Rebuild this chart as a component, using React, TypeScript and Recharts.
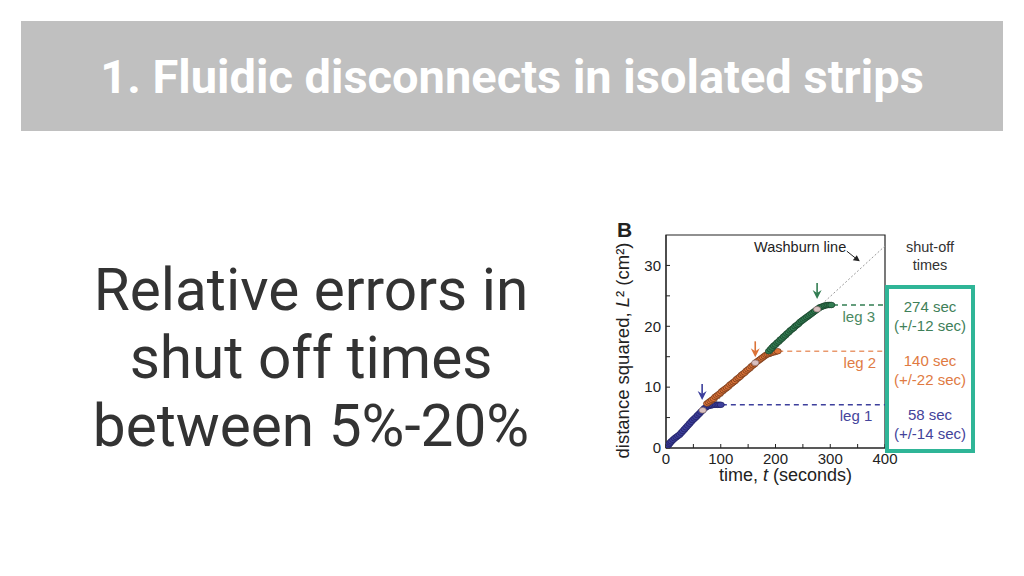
import { ComposedChart, Scatter, XAxis, YAxis, ReferenceLine, ReferenceDot, ReferenceArea } from 'recharts'

// leg 1 (blue)
const leg1Time = [0, 2, 4, 6, 8, 10, 13, 16, 19, 22, 25, 28, 31, 34, 37, 40, 43, 46, 49, 52, 55, 58, 61, 64, 67, 70, 73, 76, 79, 82, 85, 88, 91, 94, 97, 100]
const leg1Dist = [0, 0.2, 0.45, 0.7, 0.9, 1.1, 1.35, 1.6, 1.8, 2.0, 2.2, 2.5, 2.8, 3.1, 3.4, 3.7, 4.0, 4.3, 4.6, 4.85, 5.1, 5.4, 5.65, 5.95, 6.2, 6.5, 6.7, 6.85, 6.95, 7.0, 7.05, 7.1, 7.1, 7.1, 7.1, 7.1]
// leg 2 (orange)
const leg2Time = [75, 78, 81, 84, 87, 90, 93, 96, 99, 102, 105, 108, 111, 114, 117, 120, 123, 126, 129, 132, 135, 138, 141, 144, 147, 150, 153, 156, 159, 162, 165, 168, 171, 174, 177, 180, 183, 186, 189, 192, 196, 200, 204]
const leg2Dist = [7.3, 7.5, 7.7, 7.9, 8.1, 8.4, 8.6, 8.8, 9.0, 9.3, 9.5, 9.7, 9.9, 10.1, 10.4, 10.6, 10.8, 11.0, 11.3, 11.5, 11.7, 12.0, 12.2, 12.4, 12.7, 12.9, 13.1, 13.4, 13.6, 13.8, 14.1, 14.3, 14.5, 14.7, 14.9, 15.1, 15.3, 15.4, 15.5, 15.6, 15.7, 15.8, 15.9]
// leg 3 (green)
const leg3Time = [188, 191, 194, 197, 200, 203, 206, 209, 212, 215, 218, 221, 224, 227, 230, 233, 236, 239, 242, 245, 248, 251, 254, 257, 260, 263, 266, 269, 272, 275, 278, 281, 284, 287, 290, 293, 296, 299, 302]
const leg3Dist = [15.9, 16.2, 16.5, 16.8, 17.0, 17.3, 17.5, 17.8, 18.0, 18.3, 18.5, 18.8, 19.0, 19.3, 19.5, 19.7, 20.0, 20.2, 20.4, 20.7, 20.9, 21.1, 21.3, 21.5, 21.7, 21.9, 22.1, 22.3, 22.5, 22.7, 22.9, 23.1, 23.2, 23.3, 23.4, 23.45, 23.5, 23.5, 23.5]

// shut-off points (light markers), levels where dashed lines start, arrow tips
const shutPtTime = [67, 163, 276]
const shutPtDist = [6.2, 14.0, 22.8]
const shutLevels = [7.1, 15.9, 23.5]
const shutStart = [102, 205, 305]
const arrowTime = [66, 163, 276]
const arrowDist = [7.9, 14.9, 24.5]

const washburnEnd = { t: 400, L: 33.2 }
const xTicks = [0, 50, 100, 150, 200, 250, 300, 350, 400]
const yTicks = [0, 5, 10, 15, 20, 25, 30]

const shutTimes = ['274 sec', '140 sec', '58 sec']
const shutErrors = ['(+/-12 sec)', '(+/-22 sec)', '(+/-14 sec)']

const BLUE = '#3d3f9c'
const ORANGE = '#dc7338'
const GREEN = '#327d52'
const TEAL = '#2fb597'
const SANS = '"Liberation Sans", Arial, sans-serif'

const zip = (ts: number[], ls: number[]) => ts.map((t, i) => ({ t, L: ls[i] }))
const leg1 = zip(leg1Time, leg1Dist)
const leg2 = zip(leg2Time, leg2Dist)
const leg3 = zip(leg3Time, leg3Dist)
const shutPts = zip(shutPtTime, shutPtDist)
const arrows = zip(arrowTime, arrowDist).map((p, i) => ({ ...p, c: [BLUE, ORANGE, GREEN][i] }))

const marker = (fill: string, stroke: string) => (p: any) =>
  <ellipse cx={p.cx} cy={p.cy} rx={3.6} ry={2.8} fill={fill} stroke={stroke} strokeWidth={0.7} />

function DownArrow(p: any) {
  const { cx, cy } = p
  const c = p.payload.c
  return (
    <g>
      <line x1={cx} y1={cy - 16} x2={cx} y2={cy - 5} stroke={c} strokeWidth={1.6} />
      <path d={`M${cx - 4.5},${cy - 9} L${cx},${cy} L${cx + 4.5},${cy - 9} L${cx},${cy - 6} Z`} fill={c} />
    </g>
  )
}

function WashArrow(p: any) {
  const { cx, cy } = p
  return (
    <g>
      <line x1={cx - 13} y1={cy - 10} x2={cx - 3} y2={cy - 2} stroke="#222" strokeWidth={1} />
      <path d={`M${cx},${cy} L${cx - 7},${cy - 1} L${cx - 3},${cy - 6} Z`} fill="#222" />
    </g>
  )
}

function YTitle({ viewBox }: any) {
  const x = viewBox.x + 16
  const y = viewBox.y + viewBox.height / 2 + 9
  return (
    <text x={x} y={y} transform={`rotate(-90 ${x} ${y})`} textAnchor="middle" dominantBaseline="central" fontSize={18.5} fill="#222" fontFamily={SANS}>
      distance squared, <tspan fontStyle="italic">L</tspan>² (cm²)
    </text>
  )
}

function XTitle({ viewBox }: any) {
  const x = viewBox.x + viewBox.width / 2 + 10
  const y = viewBox.y + 27
  return (
    <text x={x} y={y} textAnchor="middle" dominantBaseline="central" fontSize={18} fill="#222" fontFamily={SANS}>
      time, <tspan fontStyle="italic">t</tspan> (seconds)
    </text>
  )
}

const tickStyle = { fill: '#222', fontSize: 15, fontFamily: SANS }

export default function App() {
  return (
    <div style={{ position: 'fixed', left: 0, top: 0, width: 1024, height: 576, background: '#fff', overflow: 'hidden' }}>
      {/* title band */}
      <div style={{ position: 'absolute', left: 21, top: 21, width: 982, height: 110, background: '#c0c0c0', display: 'flex', alignItems: 'center', justifyContent: 'center' }}>
        <span style={{ fontFamily: 'Roboto', fontWeight: 700, fontSize: 47, color: '#fff', whiteSpace: 'nowrap' }}>
          1. Fluidic disconnects in isolated strips
        </span>
      </div>

      {/* left text */}
      <div style={{ position: 'absolute', left: 40, top: 256, width: 542, textAlign: 'center', fontFamily: 'Roboto', fontSize: 58.5, lineHeight: '68px', color: '#333', whiteSpace: 'nowrap' }}>
        <div>Relative errors in</div>
        <div>shut off times</div>
        <div>between 5%-20%</div>
      </div>

      {/* figure */}
      <div style={{ position: 'absolute', left: 617, top: 219, fontFamily: SANS, fontWeight: 700, fontSize: 21, color: '#222', lineHeight: '22px' }}>B</div>

      <div style={{ position: 'absolute', left: 606, top: 220 }}>
        <ComposedChart width={300} height={270} margin={{ top: 15, right: 21, left: 0, bottom: 0 }}>
          <XAxis type="number" dataKey="t" domain={[0, 400]} ticks={xTicks} interval={0} allowDataOverflow
            tickFormatter={(v: number) => (v % 100 === 0 ? String(v) : '')}
            tick={tickStyle} tickSize={-4} tickMargin={9} stroke="#222" height={42}
            label={<XTitle />} />
          <YAxis type="number" dataKey="L" domain={[0, 35]} ticks={yTicks} interval={0} allowDataOverflow
            tickFormatter={(v: number) => (v % 10 === 0 ? String(v) : '')}
            tick={tickStyle} tickSize={-4} tickMargin={9} stroke="#222" width={60}
            label={<YTitle />} />

          <ReferenceLine segment={[{ x: 0, y: 0 }, { x: washburnEnd.t, y: washburnEnd.L }]} stroke="#9a9a9a" strokeDasharray="2 2" strokeWidth={1} />

          <ReferenceLine segment={[{ x: shutStart[0], y: shutLevels[0] }, { x: 400, y: shutLevels[0] }]} stroke={BLUE} strokeDasharray="5 4" strokeWidth={1.4} />
          <ReferenceLine segment={[{ x: shutStart[1], y: shutLevels[1] }, { x: 400, y: shutLevels[1] }]} stroke="#e9996e" strokeDasharray="5 4" strokeWidth={1.4} />
          <ReferenceLine segment={[{ x: shutStart[2], y: shutLevels[2] }, { x: 400, y: shutLevels[2] }]} stroke={GREEN} strokeDasharray="5 4" strokeWidth={1.4} />

          <Scatter data={leg1} shape={marker(BLUE, '#1f2060')} isAnimationActive={false} />
          <Scatter data={leg2} shape={marker(ORANGE, '#6b3518')} isAnimationActive={false} />
          <Scatter data={leg3} shape={marker(GREEN, '#173d28')} isAnimationActive={false} />
          <Scatter data={shutPts} shape={marker('#d9c0c0', '#8a7070')} isAnimationActive={false} />
          <Scatter data={arrows} shape={DownArrow} isAnimationActive={false} />
          <Scatter data={[{ t: 354, L: 30.7 }]} shape={WashArrow} isAnimationActive={false} />

          <ReferenceDot x={245} y={33.1} r={1} fill="none" stroke="none"
            label={{ value: 'Washburn line', fill: '#222', fontSize: 14.5, fontFamily: SANS, position: 'center' }} />
          <ReferenceDot x={352} y={21.5} r={1} fill="none" stroke="none"
            label={{ value: 'leg 3', fill: '#4b8a62', fontSize: 15, fontFamily: SANS, position: 'center' }} />
          <ReferenceDot x={354} y={14.0} r={1} fill="none" stroke="none"
            label={{ value: 'leg 2', fill: '#e07c46', fontSize: 15, fontFamily: SANS, position: 'center' }} />
          <ReferenceDot x={347} y={5.3} r={1} fill="none" stroke="none"
            label={{ value: 'leg 1', fill: '#45459c', fontSize: 15, fontFamily: SANS, position: 'center' }} />

          <ReferenceArea x1={0} x2={400} y1={0} y2={35} fill="none" stroke="#222" strokeWidth={1.2} />
        </ComposedChart>
      </div>

      {/* shut-off times column */}
      <div style={{ position: 'absolute', left: 880, top: 238, width: 100, textAlign: 'center', fontFamily: SANS, fontSize: 14.5, lineHeight: '18px', color: '#333' }}>
        <div>shut-off</div>
        <div>times</div>
      </div>
      <div style={{ position: 'absolute', left: 885, top: 285, width: 90, height: 168, boxSizing: 'border-box', border: `4.5px solid ${TEAL}`, background: '#fff' }}>
        {[GREEN, ORANGE, BLUE].map((c, i) => (
          <div key={i} style={{ position: 'absolute', left: 0, right: 0, top: 8 + i * 54, textAlign: 'center', fontFamily: SANS, fontSize: 15, lineHeight: '19px', color: c === GREEN ? '#3f8059' : c === ORANGE ? '#e07a42' : '#43439a', whiteSpace: 'nowrap' }}>
            <div>{shutTimes[i]}</div>
            <div>{shutErrors[i]}</div>
          </div>
        ))}
      </div>
    </div>
  )
}
